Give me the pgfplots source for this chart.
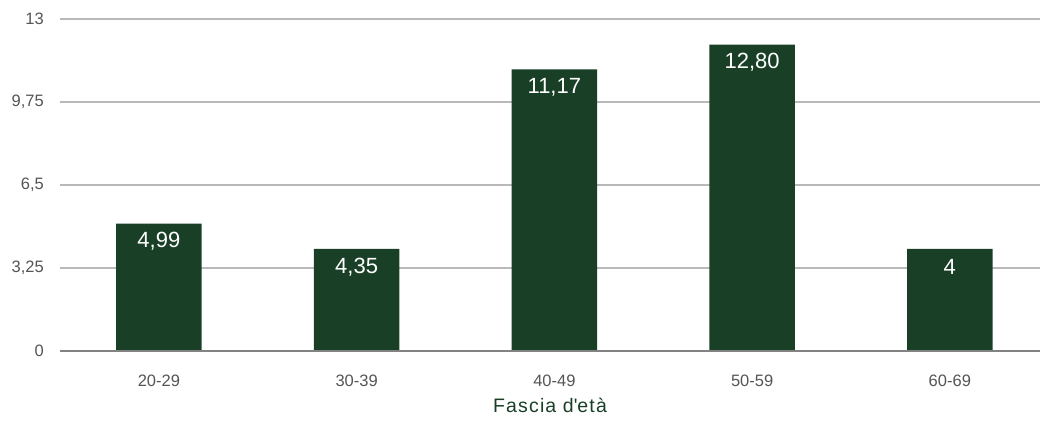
\documentclass[border=0pt]{standalone}
\usepackage{pgfplots}
\pgfplotsset{compat=1.18}
\usepackage{pgfplotstable}
\usepackage{fontspec}
\setmainfont{Liberation Sans}
\newfontfamily\widefont[LetterSpace=6]{Liberation Sans}
\definecolor{barc}{RGB}{25,64,38}
\definecolor{tickc}{RGB}{85,85,85}
\definecolor{gridc}{RGB}{185,185,185}
\definecolor{zeroc}{RGB}{130,130,130}

\pgfplotstableread{
x h lab
0 4.99 {4,99}
1 4.00 {4,35}
2 11.03 {11,17}
3 12.00 {12,80}
4 4.00 4
}\datatab

\begin{document}
\begin{tikzpicture}[x=1pt,y=1pt]
\path[use as bounding box] (0,0) rectangle (1040,426);
\begin{axis}[
  at={(60pt,75pt)}, anchor=south west,
  scale only axis, width=980pt, height=332pt,
  xmin=-0.5, xmax=4.456, ymin=0, ymax=13,
  axis line style={draw=none},
  major tick length=0pt,
  ytick={0,3.25,6.5,9.75,13},
  yticklabels={0,{3,25},{6,5},{9,75},13},
  xtick={0,1,2,3,4},
  xticklabels={20-29,30-39,40-49,50-59,60-69},
  ymajorgrids,
  grid style={gridc, line width=1.3pt},
  tick label style={font=\fontsize{16.5}{18}\selectfont, text=tickc},
  yticklabel style={anchor=east, inner sep=0pt, xshift=-16pt},
  xticklabel style={anchor=center, inner sep=0pt, yshift=-29.7pt},
  xlabel={Fascia d\textquotesingle età},
  xlabel style={at={(axis description cs:0.5,0)}, anchor=center, inner sep=0pt, yshift=-54pt, font=\widefont\fontsize{19.5}{21}\selectfont, text=barc},
  clip=false,
]
\addplot[ybar, bar width=0.433, fill=barc, draw=none,
  point meta=explicit symbolic,
  nodes near coords,
  every node near coord/.append style={anchor=center, yshift=-18pt, text=white, inner sep=0pt, font=\fontsize{22}{24}\selectfont},
] table[x=x, y=h, meta=lab] {\datatab};
\draw[zeroc, line width=1.3pt] (axis cs:-0.5,0) -- (axis cs:4.456,0);
\end{axis}
\end{tikzpicture}
\end{document}
